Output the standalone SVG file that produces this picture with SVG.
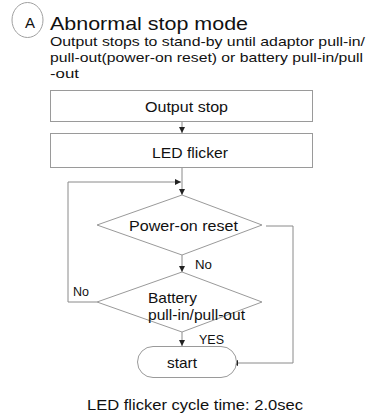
<svg xmlns="http://www.w3.org/2000/svg" width="371" height="414" viewBox="0 0 371 414">
<style>
text{font-family:"Liberation Sans",Arial,sans-serif;fill:#111}
.box{fill:#fff;stroke:#9a9a9a;stroke-width:1}
.ln{fill:none;stroke:#8a8a8a;stroke-width:1}
.c{text-anchor:middle}
.n{font-size:15px}
.s{font-size:13.5px}
.l{font-size:13px}
</style>
<defs>
<marker id="ah" viewBox="0 0 8 8" refX="8" refY="4" markerWidth="6" markerHeight="6" orient="auto" markerUnits="userSpaceOnUse">
<path d="M0,0 L8,4 L0,8 z" fill="#222"/>
</marker>
</defs>
<rect width="371" height="414" fill="#fff"/>
<g id="header">
<ellipse cx="27.5" cy="20" rx="15.5" ry="17.5" fill="none" stroke="#a0a0a0"/>
<text x="30" y="28" class="c" font-size="15">A</text>
<text x="50" y="30" font-size="18.5" textLength="198" lengthAdjust="spacingAndGlyphs">Abnormal stop mode</text>
<text x="50" y="46" class="s" textLength="315" lengthAdjust="spacingAndGlyphs">Output stops to stand-by until adaptor pull-in/</text>
<text x="50" y="62" class="s" textLength="313" lengthAdjust="spacingAndGlyphs">pull-out(power-on reset) or battery pull-in/pull</text>
<text x="50" y="78" class="s" textLength="29" lengthAdjust="spacingAndGlyphs">-out</text>
</g>
<g id="connectors">
<line class="ln" x1="182" y1="121" x2="182" y2="133" marker-end="url(#ah)"/>
<line class="ln" x1="182" y1="167" x2="182" y2="195" marker-end="url(#ah)"/>
<polyline class="ln" points="97,302 68,302 68,182 181,182" marker-end="url(#ah)"/>
<polyline class="ln" points="266,226 293,226 293,363 232,363" marker-end="url(#ah)"/>
<line class="ln" x1="182" y1="255" x2="182" y2="272" marker-end="url(#ah)"/>
<line class="ln" x1="182" y1="332" x2="182" y2="346" marker-end="url(#ah)"/>
<text x="195" y="269" class="l" textLength="17" lengthAdjust="spacingAndGlyphs">No</text>
<text x="73" y="296" class="l" textLength="16" lengthAdjust="spacingAndGlyphs">No</text>
<text x="199" y="344" class="l" textLength="25" lengthAdjust="spacingAndGlyphs">YES</text>
</g>
<g id="output-stop">
<rect class="box" x="50.5" y="90.5" width="262" height="31"/>
<text x="145" y="112" class="n" textLength="83" lengthAdjust="spacingAndGlyphs">Output stop</text>
</g>
<g id="led-flicker">
<rect class="box" x="50.5" y="133.5" width="262" height="34"/>
<text x="152" y="158" class="n" textLength="76" lengthAdjust="spacingAndGlyphs">LED flicker</text>
</g>
<g id="power-on-reset">
<polygon class="box" points="182,195 262,225 182,255 97,225"/>
<text x="129" y="231" class="n" textLength="109" lengthAdjust="spacingAndGlyphs">Power-on reset</text>
</g>
<g id="battery">
<polygon class="box" points="182,272 262,302 182,332 97,302"/>
<text x="148" y="303" class="n" textLength="49" lengthAdjust="spacingAndGlyphs">Battery</text>
<text x="148" y="320" class="n" textLength="97" lengthAdjust="spacingAndGlyphs">pull-in/pull-out</text>
</g>
<g id="start">
<rect class="box" x="137.5" y="346.5" width="99" height="31" rx="15.5"/>
<text x="167" y="368" class="n" textLength="30" lengthAdjust="spacingAndGlyphs">start</text>
</g>
<g id="footer">
<text x="87" y="410" font-size="15.5" textLength="216" lengthAdjust="spacingAndGlyphs">LED flicker cycle time: 2.0sec</text>
</g>
</svg>
